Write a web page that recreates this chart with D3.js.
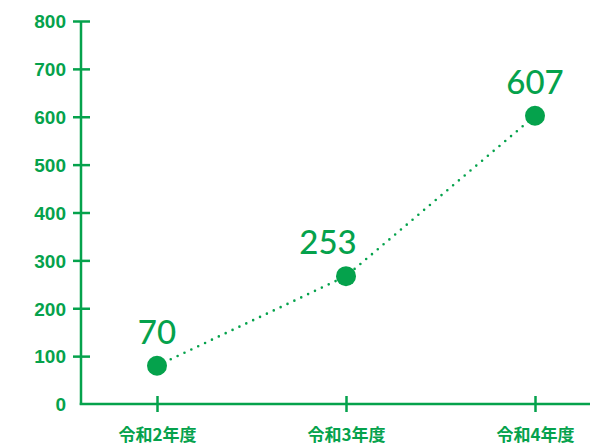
<!DOCTYPE html>
<html><head><meta charset="utf-8">
<script src="https://cdn.jsdelivr.net/npm/d3@7"></script>
<style>body{margin:0;background:#fff}svg{display:block}</style>
</head><body>
<svg id="c" width="590" height="448"></svg>
<script>
const categories = ["令和2年度", "令和3年度", "令和4年度"];
const labelValues = [70, 253, 607];
const plottedValues = [80, 267, 602];
const yTicks = [0, 100, 200, 300, 400, 500, 600, 700, 800];

const green = "#05a24c";
const svg = d3.select("#c");
const x0 = 81, y0 = 404, yTop = 21;
const step = 189;
const x = d3.scalePoint().domain(categories).range([157, 157 + 2 * step]);
const y = d3.scaleLinear().domain([0, 800]).range([y0, yTop]);

// y axis
const yAxis = svg.append("g").attr("transform", `translate(${x0},0)`)
  .call(d3.axisLeft(y).tickValues(yTicks).tickSize(0).tickPadding(15));
yAxis.select(".domain").remove();
yAxis.selectAll("text").attr("fill", green).attr("font-family", "Liberation Sans, Arial, sans-serif")
  .attr("font-weight", "bold").attr("font-size", 19).attr("dy", "0.36em");
yAxis.selectAll(".tick").filter(d => d > 0).append("line")
  .attr("x1", -8).attr("x2", 9).attr("stroke", green).attr("stroke-width", 2.5);
svg.append("line").attr("x1", x0).attr("x2", x0).attr("y1", yTop).attr("y2", y0 + 1)
  .attr("stroke", green).attr("stroke-width", 2.5);

// x axis
const xAxis = svg.append("g").attr("transform", `translate(0,${y0})`)
  .call(d3.axisBottom(x).tickSize(0));
xAxis.select(".domain").remove();
xAxis.selectAll("text").attr("fill", green).attr("font-family", "Noto Sans CJK JP, sans-serif")
  .attr("font-weight", "bold").attr("font-size", 17).attr("y", 37).attr("dy", 0);
xAxis.selectAll(".tick").append("line").attr("y1", -8).attr("y2", 8)
  .attr("stroke", green).attr("stroke-width", 2.5);
svg.append("line").attr("x1", x0 - 1.25).attr("x2", 590).attr("y1", y0).attr("y2", y0)
  .attr("stroke", green).attr("stroke-width", 2.5);

// dotted line
const pts = categories.map((c, i) => [x(c), y(plottedValues[i])]);
svg.append("path").attr("d", d3.line()(pts)).attr("fill", "none")
  .attr("stroke", green).attr("stroke-width", 2.6).attr("stroke-linecap", "round")
  .attr("stroke-dasharray", "0 7.6");

svg.selectAll("circle.pt").data(categories).join("circle")
  .attr("cx", d => x(d)).attr("cy", (d, i) => y(plottedValues[i])).attr("r", 10).attr("fill", green);

svg.selectAll("text.val").data(categories).join("text")
  .attr("x", (d, i) => x(d) + (i === 1 ? -18 : 0))
  .attr("y", (d, i) => y(plottedValues[i]) - 22)
  .attr("text-anchor", "middle").attr("fill", green)
  .attr("font-family", "Lato, 'Noto Sans', sans-serif").attr("font-size", 33).attr("font-weight", 500)
  .text((d, i) => labelValues[i]);
</script>
</body></html>
